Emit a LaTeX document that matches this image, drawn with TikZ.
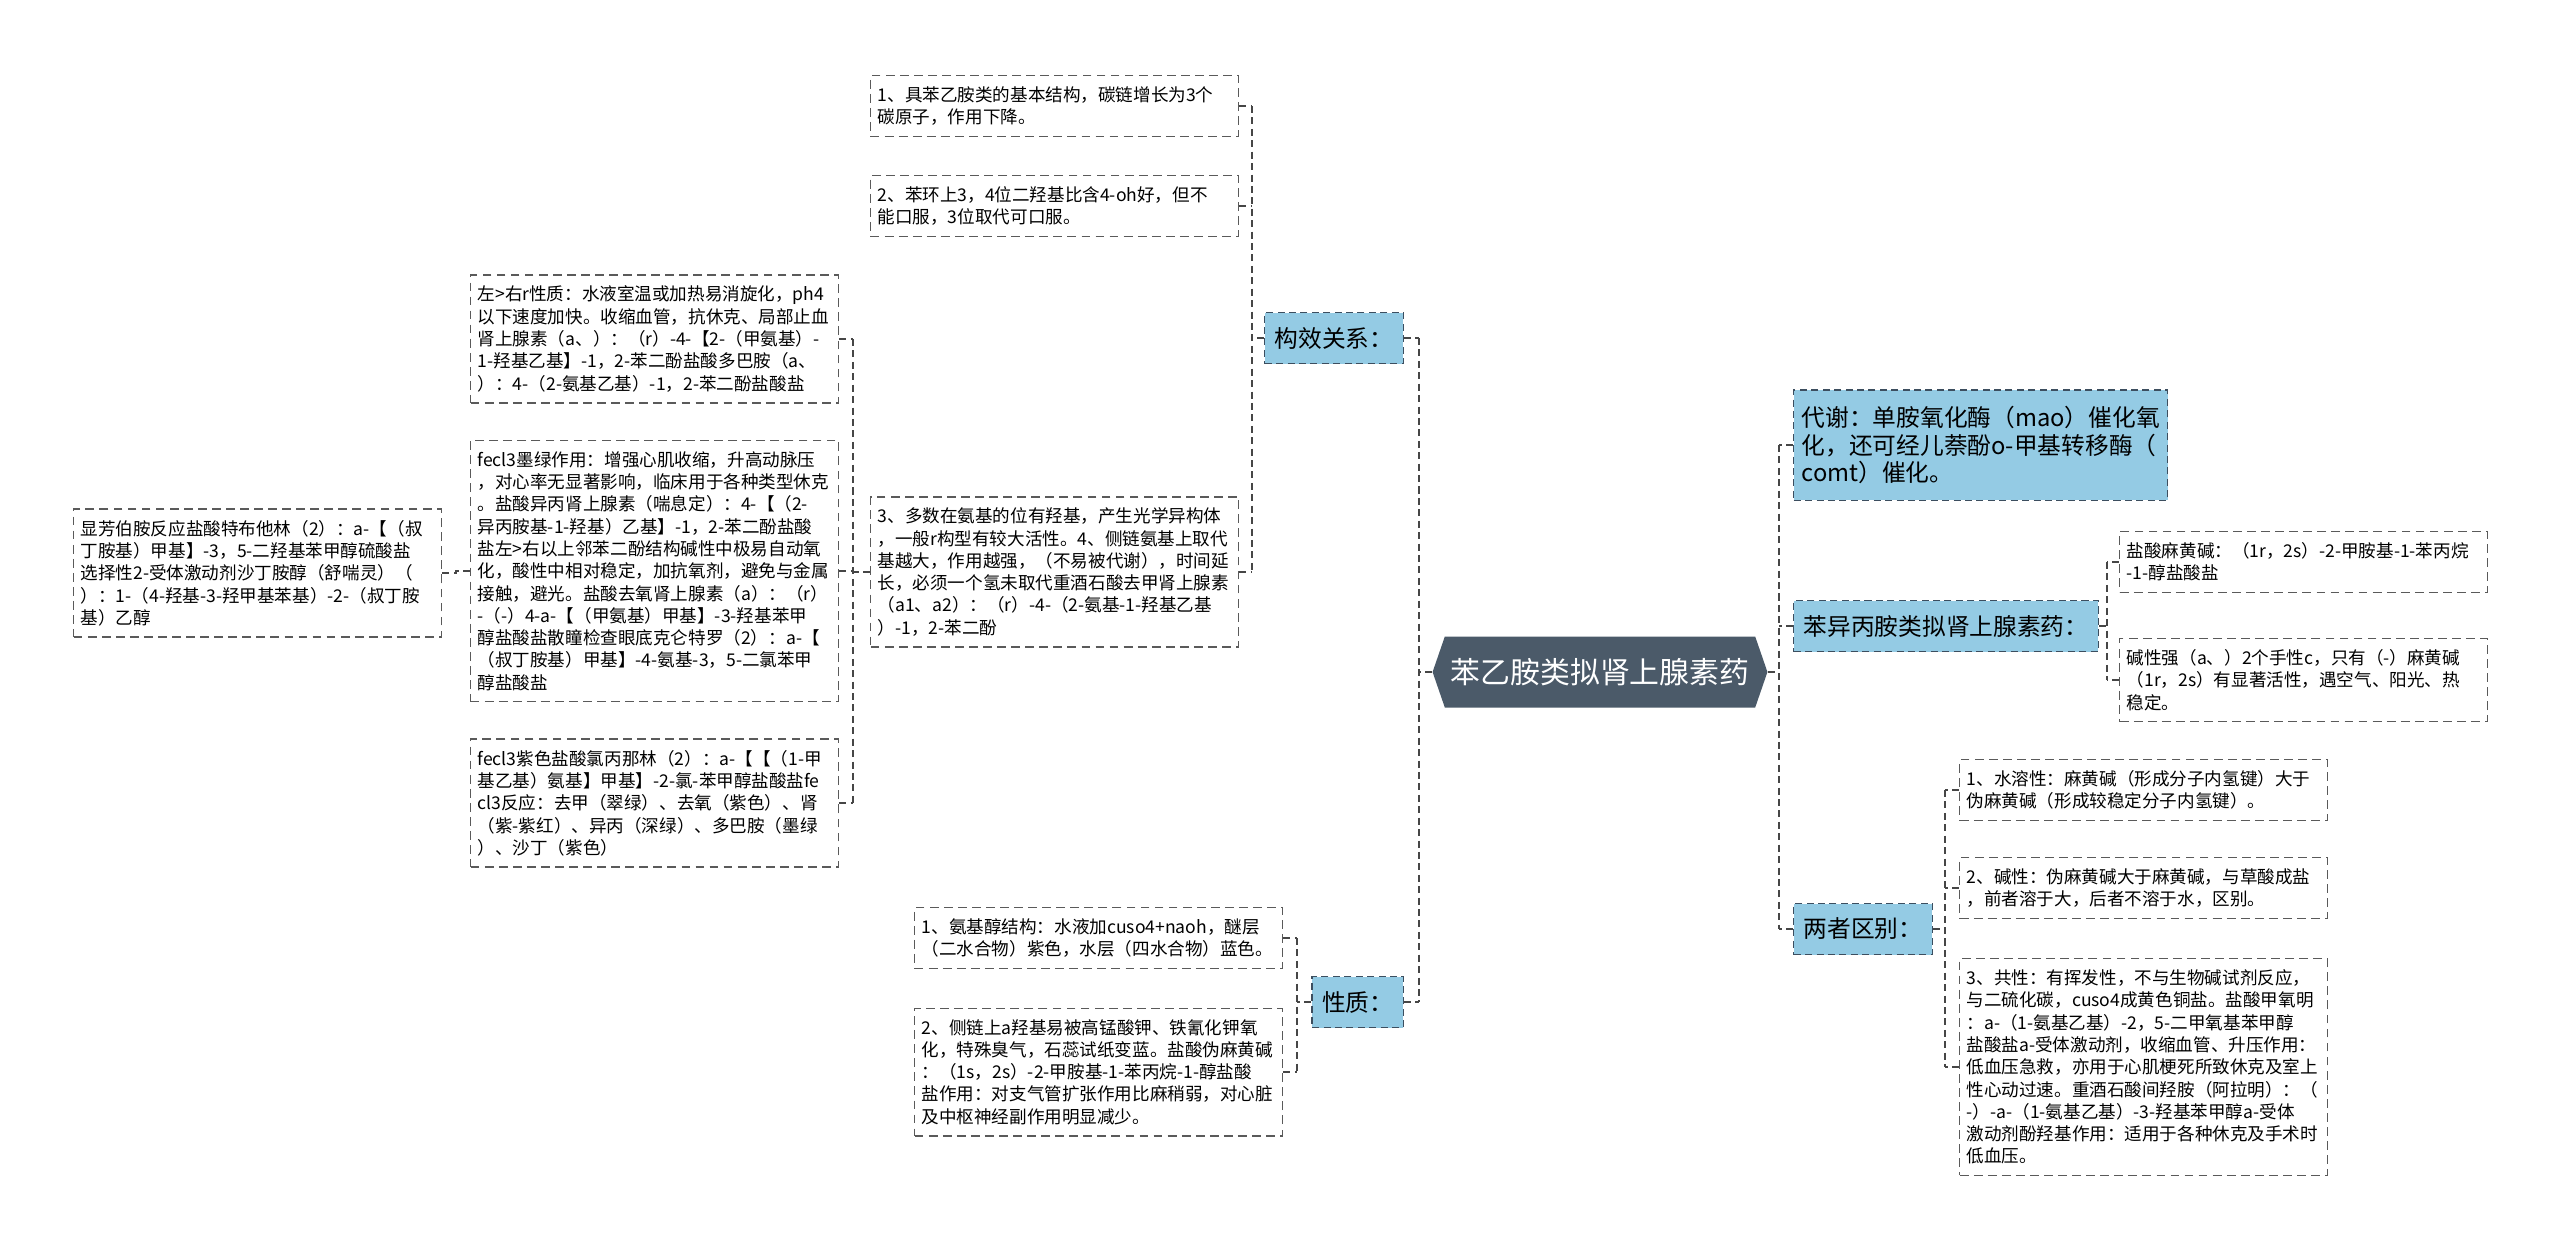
\documentclass[tikz,border=0pt]{standalone}
\usepackage{fontspec}
\setmainfont{Noto Sans CJK SC}
\usetikzlibrary{shapes.symbols}
\definecolor{rootslate}{RGB}{75,90,105}
\definecolor{topicblue}{RGB}{148,203,228}
\definecolor{topicline}{RGB}{60,78,95}
\definecolor{leafline}{RGB}{90,90,90}
\definecolor{linkgray}{RGB}{70,70,70}
\newcommand{\leaffont}{\fontsize{10pt}{12.7pt}\selectfont\exhyphenpenalty=10000 \hyphenpenalty=10000 }
\newcommand{\topicfont}{\fontsize{13.5pt}{15.6pt}\selectfont}
\newcommand{\rootfont}{\fontsize{17pt}{20pt}\selectfont}

\begin{document}
\begin{tikzpicture}[x=0.02cm, y=-0.02cm,
    leaf/.style={rectangle, draw=leafline, fill=white, line width=0.8pt, dash pattern=on 5pt off 3pt,
                 anchor=west, align=left, text width=7.08cm, inner xsep=0.14cm, inner ysep=0.22cm, font=\leaffont},
    topic/.style={rectangle, draw=topicline, fill=topicblue, line width=0.8pt, dash pattern=on 4pt off 2.5pt,
                  inner xsep=0.2cm, minimum height=1.02cm, font=\topicfont},
    topicw/.style={topic, align=left, text width=7.16cm, inner xsep=0.16cm, inner ysep=0.33cm},
    root/.style={signal, signal to=west and east, signal pointer angle=142, fill=rootslate, text=white,
                 minimum width=6.6cm, minimum height=1.42cm, font=\rootfont},
    link/.style={draw=linkgray, line width=1.1pt, dash pattern=on 4pt off 2.5pt},
    trunk/.style={link, line width=1.6pt}
]
    \useasboundingbox (0,0) rectangle (2560,1252);

    \node[root] (root) at (1600,672) {苯乙胺类拟肾上腺素药};

    \node[topic, anchor=east] (sar) at (1404,338) {构效关系：};
    \node[topic, anchor=east] (prop) at (1404,1002) {性质：};
    \node[topicw, anchor=west] (meta) at (1793,445) {代谢：单胺氧化酶（mao）催化氧\\化，还可经儿萘酚o-甲基转移酶（\\comt）催化。};
    \node[topic, anchor=west] (ppa) at (1793,626) {苯异丙胺类拟肾上腺素药：};
    \node[topic, anchor=west] (diff) at (1793,929) {两者区别：};

    \node[leaf] (sar1) at (870,106) {1、具苯乙胺类的基本结构，碳链增长为3个\\碳原子，作用下降。};
    \node[leaf] (sar2) at (870,206) {2、苯环上3，4位二羟基比含4-oh好，但不\\能口服，3位取代可口服。};
    \node[leaf] (sar3) at (870,572) {3、多数在氨基的位有羟基，产生光学异构体\\，一般r构型有较大活性。4、侧链氨基上取代\\基越大，作用越强，（不易被代谢），时间延\\长，必须一个氢未取代重酒石酸去甲肾上腺素\\（a1、a2）：（r）-4-（2-氨基-1-羟基乙基\\）-1，2-苯二酚};

    \node[leaf] (syn1) at (470,339) {左>右r性质：水液室温或加热易消旋化，ph4\\以下速度加快。收缩血管，抗休克、局部止血\\肾上腺素（a、）：（r）-4-【2-（甲氨基）-\\1-羟基乙基】-1，2-苯二酚盐酸多巴胺（a、\\）：4-（2-氨基乙基）-1，2-苯二酚盐酸盐};
    \node[leaf] (syn2) at (470,571) {fecl3墨绿作用：增强心肌收缩，升高动脉压\\，对心率无显著影响，临床用于各种类型休克\\。盐酸异丙肾上腺素（喘息定）：4-【（2-\\异丙胺基-1-羟基）乙基】-1，2-苯二酚盐酸\\盐左>右以上邻苯二酚结构碱性中极易自动氧\\化，酸性中相对稳定，加抗氧剂，避免与金属\\接触，避光。盐酸去氧肾上腺素（a）：（r）\\-（-）4-a-【（甲氨基）甲基】-3-羟基苯甲\\醇盐酸盐散瞳检查眼底克仑特罗（2）：a-【\\（叔丁胺基）甲基】-4-氨基-3，5-二氯苯甲\\醇盐酸盐};
    \node[leaf] (syn3) at (470,803) {fecl3紫色盐酸氯丙那林（2）：a-【【（1-甲\\基乙基）氨基】甲基】-2-氯-苯甲醇盐酸盐fe\\cl3反应：去甲（翠绿）、去氧（紫色）、肾\\（紫-紫红）、异丙（深绿）、多巴胺（墨绿\\）、沙丁（紫色）};
    \node[leaf] (far) at (73,573) {显芳伯胺反应盐酸特布他林（2）：a-【（叔\\丁胺基）甲基】-3，5-二羟基苯甲醇硫酸盐\\选择性2-受体激动剂沙丁胺醇（舒喘灵）（\\）：1-（4-羟基-3-羟甲基苯基）-2-（叔丁胺\\基）乙醇};

    \node[leaf] (prop1) at (914,938) {1、氨基醇结构：水液加cuso4+naoh，醚层\\（二水合物）紫色，水层（四水合物）蓝色。};
    \node[leaf] (prop2) at (914,1072) {2、侧链上a羟基易被高锰酸钾、铁氰化钾氧\\化，特殊臭气，石蕊试纸变蓝。盐酸伪麻黄碱\\：（1s，2s）-2-甲胺基-1-苯丙烷-1-醇盐酸\\盐作用：对支气管扩张作用比麻稍弱，对心脏\\及中枢神经副作用明显减少。};

    \node[leaf] (ppa1) at (2119,562) {盐酸麻黄碱：（1r，2s）-2-甲胺基-1-苯丙烷\\-1-醇盐酸盐};
    \node[leaf] (ppa2) at (2119,680) {碱性强（a、）2个手性c，只有（-）麻黄碱\\（1r，2s）有显著活性，遇空气、阳光、热\\稳定。};

    \node[leaf] (diff1) at (1959,790) {1、水溶性：麻黄碱（形成分子内氢键）大于\\伪麻黄碱（形成较稳定分子内氢键）。};
    \node[leaf] (diff2) at (1959,888) {2、碱性：伪麻黄碱大于麻黄碱，与草酸成盐\\，前者溶于大，后者不溶于水，区别。};
    \node[leaf] (diff3) at (1959,1067) {3、共性：有挥发性，不与生物碱试剂反应，\\与二硫化碳，cuso4成黄色铜盐。盐酸甲氧明\\：a-（1-氨基乙基）-2，5-二甲氧基苯甲醇\\盐酸盐a-受体激动剂，收缩血管、升压作用：\\低血压急救，亦用于心肌梗死所致休克及室上\\性心动过速。重酒石酸间羟胺（阿拉明）：（\\-）-a-（1-氨基乙基）-3-羟基苯甲醇a-受体\\激动剂酚羟基作用：适用于各种休克及手术时\\低血压。};

    \coordinate (lx) at (1419,0);
    \coordinate (rx) at (1779,0);
    \coordinate (sx) at (1252,0);
    \coordinate (yx) at (853,0);
    \coordinate (fx) at (456,0);
    \coordinate (px) at (1297,0);
    \coordinate (ax) at (2107,0);
    \coordinate (dx) at (1945,0);

    \draw[trunk] (sar.east -| lx) -- (prop.east -| lx);
    \draw[trunk] (root.west) -- (root.west -| lx);
    \draw[link] (sar.east) -- (sar.east -| lx);
    \draw[link] (prop.east) -- (prop.east -| lx);

    \draw[trunk] (meta.west -| rx) -- (diff.west -| rx);
    \draw[trunk] (root.east) -- (root.east -| rx);
    \draw[link] (meta.west) -- (meta.west -| rx);
    \draw[link] (ppa.west) -- (ppa.west -| rx);
    \draw[link] (diff.west) -- (diff.west -| rx);

    \draw[link] (sar1.east -| sx) -- (sar3.east -| sx);
    \draw[link] (sar.west) -- (sar.west -| sx);
    \draw[link] (sar1.east) -- (sar1.east -| sx);
    \draw[link] (sar2.east) -- (sar2.east -| sx);
    \draw[link] (sar3.east) -- (sar3.east -| sx);

    \draw[link] (syn1.east -| yx) -- (syn3.east -| yx);
    \draw[link] (sar3.west) -- (sar3.west -| yx);
    \draw[link] (syn1.east) -- (syn1.east -| yx);
    \draw[link] (syn2.east) -- (syn2.east -| yx);
    \draw[link] (syn3.east) -- (syn3.east -| yx);

    \draw[link] (far.east) -- (far.east -| fx) |- (syn2.west);

    \draw[link] (prop1.east -| px) -- (prop2.east -| px);
    \draw[link] (prop.west) -- (prop.west -| px);
    \draw[link] (prop1.east) -- (prop1.east -| px);
    \draw[link] (prop2.east) -- (prop2.east -| px);

    \draw[link] (ppa1.west -| ax) -- (ppa2.west -| ax);
    \draw[link] (ppa.east) -- (ppa.east -| ax);
    \draw[link] (ppa1.west) -- (ppa1.west -| ax);
    \draw[link] (ppa2.west) -- (ppa2.west -| ax);

    \draw[link] (diff1.west -| dx) -- (diff3.west -| dx);
    \draw[link] (diff.east) -- (diff.east -| dx);
    \draw[link] (diff1.west) -- (diff1.west -| dx);
    \draw[link] (diff2.west) -- (diff2.west -| dx);
    \draw[link] (diff3.west) -- (diff3.west -| dx);
\end{tikzpicture}
\end{document}
